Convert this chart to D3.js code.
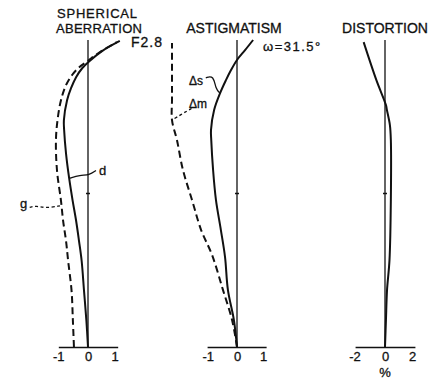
<!doctype html>
<html lang="en">
<head>
  <meta charset="utf-8">
  <script src="https://d3js.org/d3.v7.min.js"></script>
  <style>
    body { margin: 0; background: #fff; }
    text { font-family: "Liberation Sans", Arial, sans-serif; fill: #111; stroke: #111; stroke-width: 0.3px; }
    .curve { fill: none; stroke: #111; stroke-width: 2; }
    .axis path { stroke: #111; stroke-width: 1.4; }
    .axis text { font-size: 13px; font-family: "Liberation Sans", Arial, sans-serif; fill: #111; }
  </style>
</head>
<body>
  <svg id="plot" width="439" height="383"></svg>
  <script>
    // spherical aberration: relative height vs. value (mm)
    var saHd = [0, 0.085, 0.183, 0.281, 0.346, 0.412, 0.477, 0.549, 0.631, 0.706, 0.739, 0.804, 0.843, 0.879, 0.908, 0.931, 0.964, 0.997];
    var saD  = [0, -0.06, -0.15, -0.24, -0.34, -0.45, -0.58, -0.71, -0.83, -0.90, -0.91, -0.79, -0.64, -0.45, -0.22, 0.05, 0.53, 1.2];
    var saHg = [0, 0.085, 0.183, 0.281, 0.346, 0.412, 0.477, 0.575, 0.673, 0.739, 0.804, 0.853, 0.886, 0.912, 0.931, 0.961, 0.993];
    var saG  = [-0.53, -0.57, -0.62, -0.75, -0.83, -0.94, -1.02, -1.17, -1.21, -1.15, -1.02, -0.83, -0.60, -0.32, -0.02, 0.45, 1.09];

    // astigmatism
    var asH  = [0, 0.088, 0.186, 0.293, 0.381, 0.479, 0.577, 0.674, 0.707, 0.772, 0.827, 0.87, 0.902, 0.935, 0.967, 1.0];
    var asS  = [0, -0.12, -0.35, -0.46, -0.62, -0.81, -0.92, -0.99, -1.0, -0.88, -0.65, -0.42, -0.23, 0, 0.31, 0.62];
    var asHm = [0, 0.088, 0.186, 0.30, 0.381, 0.479, 0.577, 0.674, 0.739, 0.805, 0.87, 0.99];
    var asM  = [0, -0.19, -0.54, -0.96, -1.38, -1.73, -2.08, -2.31, -2.5, -2.5, -2.5, -2.5];

    // distortion (%)
    var diH  = [0, 0.088, 0.186, 0.283, 0.479, 0.674, 0.723, 0.772, 0.788, 0.87, 0.993];
    var diV  = [0, 0.07, 0.15, 0.33, 0.43, 0.43, 0.36, 0.14, 0.07, -0.64, -1.57];

    var ticks1 = [-1, 0, 1];
    var ticks2 = [-1, 0, 1];
    var ticks3 = [-2, 0, 2];

    var svg = d3.select("#plot");

    var y = d3.scaleLinear().domain([0, 1]).range([347, 40]);

    var x1 = d3.scaleLinear().domain([-1.12, 1.12]).range([88 - 1.12 * 26.5, 88 + 1.12 * 26.5]);
    var x2 = d3.scaleLinear().domain([-1.15, 1.12]).range([237 - 1.15 * 26, 237 + 1.12 * 26]);
    var x3 = d3.scaleLinear().domain([-2.2, 2.2]).range([385 - 2.2 * 13.6, 385 + 2.2 * 13.6]);

    function drawAxes(x, ticks) {
      var g = svg.append("g").attr("class", "axis")
        .attr("transform", "translate(0," + y(0) + ")")
        .call(d3.axisBottom(x).tickValues(ticks).tickSize(0).tickSizeOuter(0).tickPadding(5)
          .tickFormat(function (d) { return d < 0 ? "-" + (-d) : String(d); }));
      g.selectAll(".tick text").attr("dx", function (d) { return d < 0 ? "-0.25em" : 0; });
      svg.append("line")
        .attr("x1", x(0)).attr("x2", x(0))
        .attr("y1", y(0)).attr("y2", y(1))
        .style("stroke", "#111").style("stroke-width", 1.3);
      svg.append("line")
        .attr("x1", x(0) - 2).attr("x2", x(0) + 2)
        .attr("y1", y(0.5)).attr("y2", y(0.5))
        .style("stroke", "#111").style("stroke-width", 1.5);
    }

    function drawCurve(x, hs, vs, dashed) {
      var pts = hs.map(function (h, i) { return [vs[i], h]; });
      var line = d3.line()
        .x(function (d) { return x(d[0]); })
        .y(function (d) { return y(d[1]); })
        .curve(d3.curveCatmullRom.alpha(0.5));
      svg.append("path").datum(pts)
        .attr("class", "curve")
        .attr("d", line)
        .style("stroke-dasharray", dashed ? "7,4" : null);
    }

    function label(txt, xp, yp, size, anchor) {
      return svg.append("text").attr("x", xp).attr("y", yp)
        .style("font-size", size + "px")
        .attr("text-anchor", anchor || "start")
        .text(txt);
    }

    function leader(x, pts, dashed) {
      var line = d3.line()
        .x(function (d) { return x(d[0]); })
        .y(function (d) { return y(d[1]); })
        .curve(d3.curveBasis);
      svg.append("path").datum(pts)
        .attr("d", line)
        .style("fill", "none").style("stroke", "#111").style("stroke-width", 1.3)
        .style("stroke-dasharray", dashed ? "3,2.5" : null);
    }

    // panel 1
    drawAxes(x1, ticks1);
    drawCurve(x1, saHd, saD, false);
    drawCurve(x1, saHg, saG, true);
    label("SPHERICAL", 97, 18, 13, "middle").attr("textLength", 80);
    label("ABERRATION", 99, 33, 13, "middle").attr("textLength", 86);
    label("F2.8", 131, 47, 14).style("letter-spacing", "1px");
    leader(x1, [[-0.71, 0.549], [-0.3, 0.56], [0.05, 0.56], [0.3, 0.575]], false);
    label("d", 99, 175, 13);
    leader(x1, [[-2.2, 0.455], [-1.95, 0.46], [-1.6, 0.452], [-1.05, 0.46]], true);
    label("g", 20, 208, 13);

    // panel 2
    drawAxes(x2, ticks2);
    drawCurve(x2, asH, asS, false);
    drawCurve(x2, asHm, asM, true);
    label("ASTIGMATISM", 234, 33, 14, "middle");
    label("\u03c9=31.5\u00b0", 263, 51, 13).style("letter-spacing", "1.5px");
    leader(x2, [[-1.2, 0.877], [-0.9, 0.885], [-0.82, 0.84], [-0.65, 0.827]], false);
    label("\u0394s", 189, 85, 12);
    leader(x2, [[-1.75, 0.777], [-2.1, 0.76], [-2.5, 0.739]], true);
    label("\u0394m", 189, 108, 12);

    // panel 3
    drawAxes(x3, ticks3);
    drawCurve(x3, diH, diV, false);
    label("DISTORTION", 385, 33, 14, "middle");
    label("%", 385, 377, 13, "middle");
  </script>
</body>
</html>
